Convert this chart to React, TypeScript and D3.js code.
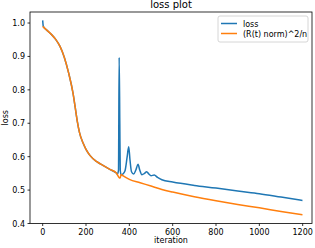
import React from "react";
import * as d3 from "d3";

const normIter = [0, 20, 40, 60, 80, 100, 120, 140, 150, 160, 170, 187, 200, 218, 250, 280, 310, 340, 352, 358, 362, 370, 400, 450, 500, 550, 600, 700, 800, 900, 1000, 1100, 1199];
const normValues = [0.99, 0.978, 0.966, 0.951, 0.93, 0.897, 0.85, 0.79, 0.748, 0.705, 0.672, 0.64, 0.622, 0.604, 0.585, 0.573, 0.562, 0.551, 0.538, 0.536, 0.547, 0.543, 0.532, 0.522, 0.512, 0.502, 0.494, 0.48, 0.468, 0.457, 0.447, 0.436, 0.426];

const lossIter = [0, 3, 20, 40, 60, 80, 100, 120, 140, 150, 160, 170, 187, 200, 218, 250, 280, 310, 340, 345, 350, 353, 356, 358, 362, 370, 380, 390, 397, 403, 410, 420, 430, 440, 448, 458, 470, 480, 490, 500, 515, 530, 550, 600, 700, 800, 900, 1000, 1100, 1199];
const lossValues = [1.008, 0.99, 0.978, 0.966, 0.951, 0.93, 0.897, 0.85, 0.79, 0.748, 0.705, 0.672, 0.64, 0.622, 0.604, 0.585, 0.573, 0.562, 0.551, 0.548, 0.56, 0.897, 0.7, 0.56, 0.545, 0.548, 0.558, 0.6, 0.63, 0.59, 0.555, 0.548, 0.56, 0.577, 0.56, 0.546, 0.55, 0.555, 0.548, 0.543, 0.545, 0.538, 0.531, 0.524, 0.514, 0.506, 0.497, 0.489, 0.479, 0.469];

const xTicks = [0, 200, 400, 600, 800, 1000, 1200];
const yTicks = [0.4, 0.5, 0.6, 0.7, 0.8, 0.9, 1.0];
const seriesNames = ["loss", "(R(t) norm)^2/n"];
const seriesColors = ["#1f77b4", "#ff7f0e"];

const W = 315;
const H = 248;
const L = 30, R = 312, T = 12, B = 223.5;

export default function App() {
  const x = d3.scaleLinear().domain([-58.5, 1243]).range([L, R]);
  const y = d3.scaleLinear().domain([0.4, 1.033]).range([B, T]);
  const lossLine = d3.line<number>().x((_, i) => x(lossIter[i])).y((d) => y(d)).curve(d3.curveMonotoneX);
  const normLine = d3.line<number>().x((_, i) => x(normIter[i])).y((d) => y(d)).curve(d3.curveMonotoneX);
  const font = "DejaVu Sans, sans-serif";
  const lx = 218, ly = 16, lw = 90, lh = 26;
  return (
    <svg width={W} height={H} style={{ position: "absolute", left: 0, top: 0, background: "#fff" }} fontFamily={font}>
      <rect x={0} y={0} width={W} height={H} fill="#fff" />
      <defs>
        <clipPath id="clip">
          <rect x={L} y={T} width={R - L} height={B - T} />
        </clipPath>
      </defs>
      <g clipPath="url(#clip)">
        <path d={lossLine(lossValues) || ""} fill="none" stroke={seriesColors[0]} strokeWidth={1.5} strokeLinejoin="round" />
        <path d={normLine(normValues) || ""} fill="none" stroke={seriesColors[1]} strokeWidth={1.5} strokeLinejoin="round" />
      </g>
      <rect x={L} y={T} width={R - L} height={B - T} fill="none" stroke="#000" strokeWidth={0.8} />
      {xTicks.map((t) => (
        <g key={"x" + t}>
          <line x1={x(t)} x2={x(t)} y1={B} y2={B + 2.5} stroke="#000" strokeWidth={0.8} />
          <text x={x(t)} y={B + 11} fontSize={8} textAnchor="middle" fill="#000">{t}</text>
        </g>
      ))}
      {yTicks.map((t) => (
        <g key={"y" + t}>
          <line x1={L - 2.5} x2={L} y1={y(t)} y2={y(t)} stroke="#000" strokeWidth={0.8} />
          <text x={L - 5} y={y(t) + 3} fontSize={8} textAnchor="end" fill="#000">{t.toFixed(1)}</text>
        </g>
      ))}
      <text x={(L + R) / 2} y={243} fontSize={8} textAnchor="middle" fill="#000">iteration</text>
      <text transform={`translate(8,${(T + B) / 2}) rotate(-90)`} fontSize={8} textAnchor="middle" fill="#000">loss</text>
      <text x={(L + R) / 2} y={8} fontSize={10} textAnchor="middle" fill="#000">loss plot</text>
      <rect x={lx} y={ly} width={lw} height={lh} rx={2} fill="#fff" fillOpacity={0.8} stroke="#ccc" strokeWidth={0.8} />
      {seriesNames.map((n, i) => (
        <g key={n}>
          <line x1={lx + 3} x2={lx + 19} y1={ly + 7.5 + i * 10} y2={ly + 7.5 + i * 10} stroke={seriesColors[i]} strokeWidth={1.5} />
          <text x={lx + 25} y={ly + 10.5 + i * 10} fontSize={8} fill="#000">{n}</text>
        </g>
      ))}
    </svg>
  );
}
